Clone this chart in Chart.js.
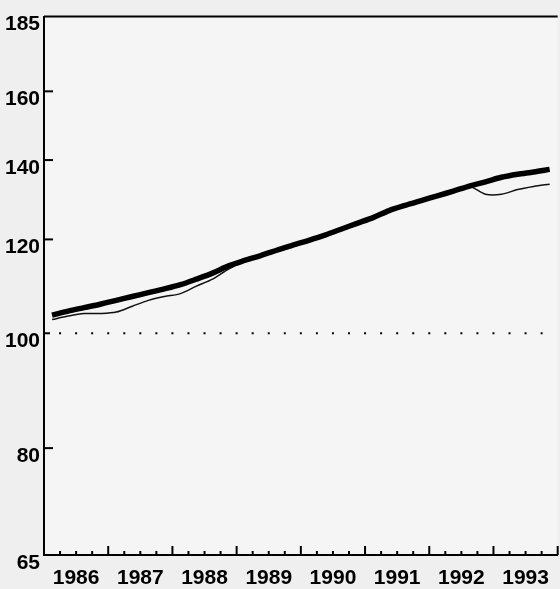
<!DOCTYPE html>
<html>
<head>
<meta charset="utf-8">
<script src="https://cdn.jsdelivr.net/npm/chart.js@4/dist/chart.umd.min.js"></script>
<style>
  html, body { margin: 0; padding: 0; background: #efefef; }
  #wrap { width: 560px; height: 589px; }
</style>
</head>
<body>
<div id="wrap"><canvas id="indexChart"></canvas></div>
<script>
// quarter mid-points, 1986 Q1 .. 1993 Q4
const quarters = [
    1986.125, 1986.375, 1986.625, 1986.875, 1987.125, 1987.375, 1987.625, 1987.875,
    1988.125, 1988.375, 1988.625, 1988.875, 1989.125, 1989.375, 1989.625, 1989.875,
    1990.125, 1990.375, 1990.625, 1990.875, 1991.125, 1991.375, 1991.625, 1991.875,
    1992.125, 1992.375, 1992.625, 1992.875, 1993.125, 1993.375, 1993.625, 1993.875
];
const thickSeries = [
    103.6, 104.4, 105.1, 105.8, 106.6, 107.4, 108.2, 109.0,
    109.9, 111.1, 112.4, 114.0, 115.2, 116.3, 117.5, 118.7,
    119.8, 121.0, 122.4, 123.8, 125.2, 126.9, 128.2, 129.4,
    130.6, 131.8, 133.1, 134.2, 135.4, 136.2, 136.8, 137.5
];
const thinSeries = [
    102.7, 103.4, 103.9, 103.9, 104.2, 105.4, 106.6, 107.4,
    108.0, 109.6, 111.1, 113.3, 115.0, 116.3, 117.5, 118.7,
    119.8, 121.0, 122.4, 123.8, 125.2, 126.9, 128.2, 129.4,
    130.6, 131.8, 133.0, 131.0, 131.0, 132.2, 133.0, 133.6
];
const yearLabels = ['1986', '1987', '1988', '1989', '1990', '1991', '1992', '1993'];
const yTicks = [65, 80, 100, 120, 140, 160, 185];

const toPoints = (vals) => vals.map((v, i) => ({ x: quarters[i], y: v }));

const tickFont = { family: "'Liberation Sans', Arial", weight: 'bold', size: 21 };

const framePlugin = {
    id: 'frame',
    beforeDraw(chart) {
        const { ctx, chartArea: a } = chart;
        ctx.save();
        ctx.fillStyle = '#f5f5f5';
        ctx.fillRect(a.left, a.top, a.right - a.left, a.bottom - a.top);
        ctx.restore();
    },
    beforeDatasetsDraw(chart) {
        const { ctx, chartArea: a, scales } = chart;
        const xs = scales.x, ys = scales.y;
        ctx.save();
        ctx.strokeStyle = '#000';
        ctx.fillStyle = '#000';
        ctx.lineWidth = 2;
        // top border
        ctx.beginPath();
        ctx.moveTo(a.left, a.top);
        ctx.lineTo(a.right, a.top);
        ctx.stroke();
        // quarterly ticks on x, pointing inward
        for (let q = 0; q <= 32; q++) {
            const v = 1986 + q / 4;
            const px = xs.getPixelForValue(v);
            const len = q % 4 === 0 ? 9 : 4;
            ctx.beginPath();
            ctx.moveTo(px, a.bottom);
            ctx.lineTo(px, a.bottom - len);
            ctx.stroke();
        }
        // y ticks
        [80, 120, 140, 160].forEach(v => {
            const py = ys.getPixelForValue(v);
            ctx.beginPath();
            ctx.moveTo(a.left, py);
            ctx.lineTo(a.left + 9, py);
            ctx.stroke();
        });
        // dotted reference at 100
        const py100 = ys.getPixelForValue(100);
        for (let q = 1; q < 32; q++) {
            const px = xs.getPixelForValue(1986 + q / 4);
            ctx.fillRect(px - 1, py100 - 1, 2, 2);
        }
        ctx.fillRect(a.left, py100 - 1, 6, 2);
        ctx.restore();
    }
};

const ctx = document.getElementById('indexChart').getContext('2d');
const indexChart = new Chart(ctx, {
    type: 'line',
    data: {
        datasets: [
            {
                label: 'thick',
                data: toPoints(thickSeries),
                borderColor: '#000',
                borderWidth: 5.5,
                pointRadius: 0,
                fill: false,
                tension: 0.3
            },
            {
                label: 'thin',
                data: toPoints(thinSeries),
                borderColor: '#111',
                borderWidth: 1.5,
                pointRadius: 0,
                fill: false,
                tension: 0.3
            }
        ]
    },
    options: {
        responsive: true,
        maintainAspectRatio: false,
        animation: false,
        layout: { padding: { top: 12, right: 1, left: 0, bottom: 0 } },
        plugins: { legend: { display: false }, tooltip: { enabled: false } },
        scales: {
            x: {
                type: 'linear',
                min: 1986,
                max: 1994,
                afterBuildTicks: (scale) => {
                    scale.ticks = yearLabels.map((y, i) => ({ value: 1986.5 + i }));
                },
                afterFit: (scale) => { scale.height = 34; },
                grid: { display: false, drawTicks: false },
                border: { display: true, color: '#000', width: 2 },
                ticks: {
                    color: '#000',
                    font: tickFont,
                    padding: 11,
                    maxRotation: 0,
                    autoSkip: false,
                    callback: (v) => yearLabels[Math.floor(v) - 1986]
                }
            },
            y: {
                type: 'logarithmic',
                min: 65,
                max: 185,
                afterBuildTicks: (scale) => {
                    scale.ticks = yTicks.map(v => ({ value: v }));
                },
                afterFit: (scale) => { scale.width = 44; },
                grid: { display: false, drawTicks: false },
                border: { display: true, color: '#000', width: 2 },
                ticks: {
                    color: '#000',
                    font: tickFont,
                    padding: 4,
                    labelOffset: 8,
                    autoSkip: false,
                    callback: (v) => String(v)
                }
            }
        }
    },
    plugins: [framePlugin]
});
</script>
</body>
</html>
